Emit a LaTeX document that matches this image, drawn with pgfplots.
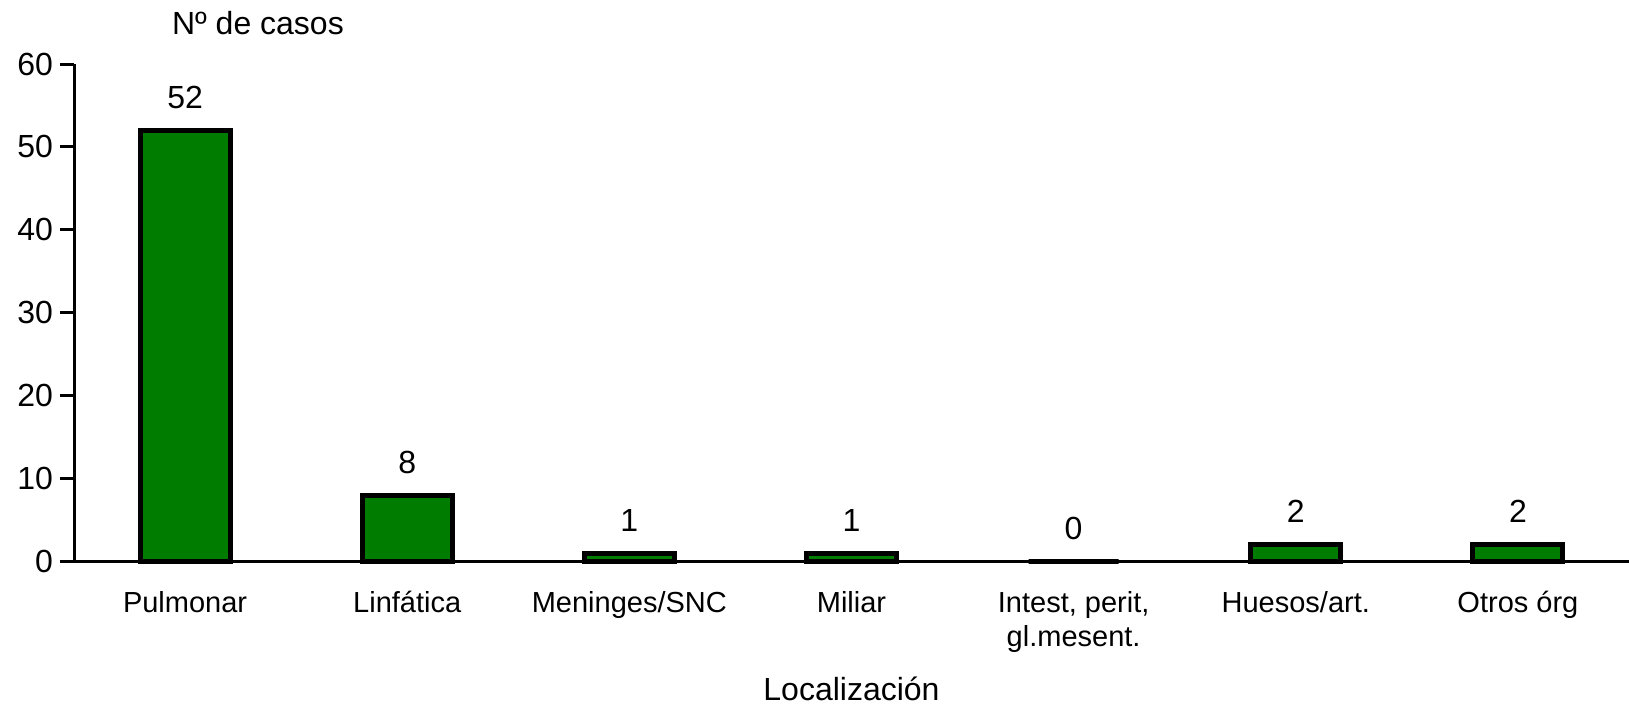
\documentclass[border=0pt]{standalone}
\usepackage{pgfplots}
\pgfplotsset{compat=1.18}
\usepackage{fontspec}
\setmainfont{Liberation Sans}
\definecolor{bargreen}{RGB}{0,125,0}
\newcommand{\largetxt}{\fontsize{16}{19}\selectfont}
\newcommand{\ticktxt}{\fontsize{14.5}{17}\selectfont}
\begin{document}
\begin{tikzpicture}
\path[use as bounding box] (-37pt,-73.25pt) rectangle (777.5pt,280.75pt);
\begin{axis}[
  at={(0pt,0pt)}, anchor=south west,
  width=777.5pt, height=248.75pt, scale only axis,
  xmin=-0.5, xmax=6.5, ymin=0, ymax=60,
  axis x line=bottom, axis y line=left,
  axis line style={-, line width=1.5pt, black},
  xtick={0,...,6},
  xticklabels={Pulmonar, Linfática, Meninges/SNC, Miliar, {Intest, perit,\\gl.mesent.}, Huesos/art., Otros órg},
  x tick style={draw=none},
  xticklabel style={font=\ticktxt, align=center, anchor=north, text depth=0pt, yshift=-4.5pt},
  ytick={0,10,...,60},
  tick align=outside, major tick length=7pt,
  y tick style={line width=1.5pt, black},
  yticklabel style={font=\largetxt},
  /pgf/number format/assume math mode=true,
  title={Nº de casos},
  title style={font=\largetxt, at={(axis description cs:0.1183,1)}, anchor=base, yshift=9pt},
  xlabel={Localización},
  xlabel style={font=\largetxt, inner sep=0pt, text depth=0pt, at={(axis description cs:0.5,0)}, anchor=base, yshift=-69.5pt},
  ybar, bar width=45pt,
  nodes near coords,
  every node near coord/.append style={font=\largetxt, anchor=base, yshift=11pt},
  clip=false,
]
\addplot[fill=bargreen, draw=black, line width=2.5pt]
  coordinates {(0,52) (1,8) (2,1) (3,1) (4,0) (5,2) (6,2)};
\end{axis}
\end{tikzpicture}
\end{document}
